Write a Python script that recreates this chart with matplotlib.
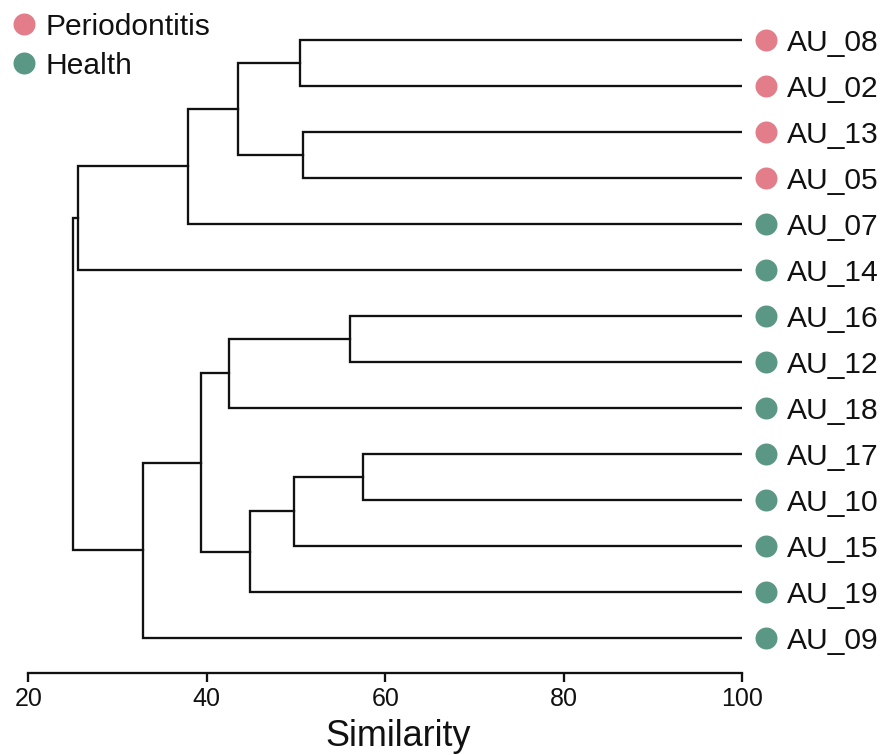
import matplotlib
matplotlib.use("Agg")
import matplotlib.pyplot as plt
from matplotlib.lines import Line2D

# leaves, top to bottom
leaves = ["AU_08", "AU_02", "AU_13", "AU_05", "AU_07", "AU_14", "AU_16",
          "AU_12", "AU_18", "AU_17", "AU_10", "AU_15", "AU_19", "AU_09"]
groups = ["Periodontitis"] * 4 + ["Health"] * 10

# merges: left child, right child, similarity (children = leaf name or merge index)
merge_left = ["AU_08", "AU_13", 0, 2, 3, "AU_16", 5, "AU_17", 7, 8, 6, 10, 4]
merge_right = ["AU_02", "AU_05", 1, "AU_07", "AU_14", "AU_12", "AU_18", "AU_10",
               "AU_15", "AU_19", 9, "AU_09", 11]
merge_sim = [50.4, 50.8, 43.5, 37.9, 25.6, 56.0, 42.5, 57.5, 49.8, 44.8, 39.3, 32.9, 25.0]

xticks = [20, 40, 60, 80, 100]

colors = {"Periodontitis": "#E37D89", "Health": "#5A9885"}

W, H = 888, 755
fig = plt.figure(figsize=(W / 72, H / 72), dpi=72)
plt.rcParams['font.family'] = ['Liberation Sans', 'DejaVu Sans']

# axes: x 20..100 maps to px 28.3..742.3, leaf i at px 40 + 46*i, axis line at 673
x0, x1 = 28.3, 742.3
ax = fig.add_axes([x0 / W, (H - 673) / H, (x1 - x0) / W, 673 / H])
ax.set_xlim(20, 100)
ax.set_ylim((673 - 40) / 46, -40 / 46)

lw = 2.3
pos = {name: (100, i) for i, name in enumerate(leaves)}
nodes = []
for a, b, s in zip(merge_left, merge_right, merge_sim):
    xa, ya = pos[a] if isinstance(a, str) else nodes[a]
    xb, yb = pos[b] if isinstance(b, str) else nodes[b]
    ax.plot([xa, s, s, xb], [ya, ya, yb, yb], color="#111111", lw=lw,
            solid_joinstyle="miter", solid_capstyle="projecting")
    nodes.append((s, (ya + yb) / 2))

# leaf markers and labels
for i, (name, g) in enumerate(zip(leaves, groups)):
    ax.plot([102.7], [i], marker="o", ms=22, color=colors[g], mec="none", clip_on=False)
    ax.annotate(name, (100, i), xytext=(45, -11), textcoords="offset points",
                fontsize=30, va="baseline", ha="left", color="#111111",
                annotation_clip=False)

for sp in ["left", "top", "right"]:
    ax.spines[sp].set_visible(False)
ax.spines["bottom"].set_linewidth(lw)
ax.spines["bottom"].set_color("#111111")
ax.set_yticks([])
ax.set_xticks(xticks)
ax.tick_params(axis="x", length=9, width=lw, color="#111111", labelsize=25,
               pad=5, labelcolor="#111111")

fig.text(398 / W, 1 - 746 / H, "Similarity", fontsize=36, ha="center",
         va="baseline", color="#111111")

# legend
for k, (g, yc) in enumerate([("Periodontitis", 24), ("Health", 63)]):
    fig.add_artist(Line2D([24 / W], [1 - yc / H], marker="o", ms=22, color=colors[g],
                          mec="none", transform=fig.transFigure))
    fig.text(45 / W, 1 - (yc + 11) / H, g, fontsize=30, ha="left", va="baseline",
             color="#111111")

fig.savefig("out.png", dpi=72)
